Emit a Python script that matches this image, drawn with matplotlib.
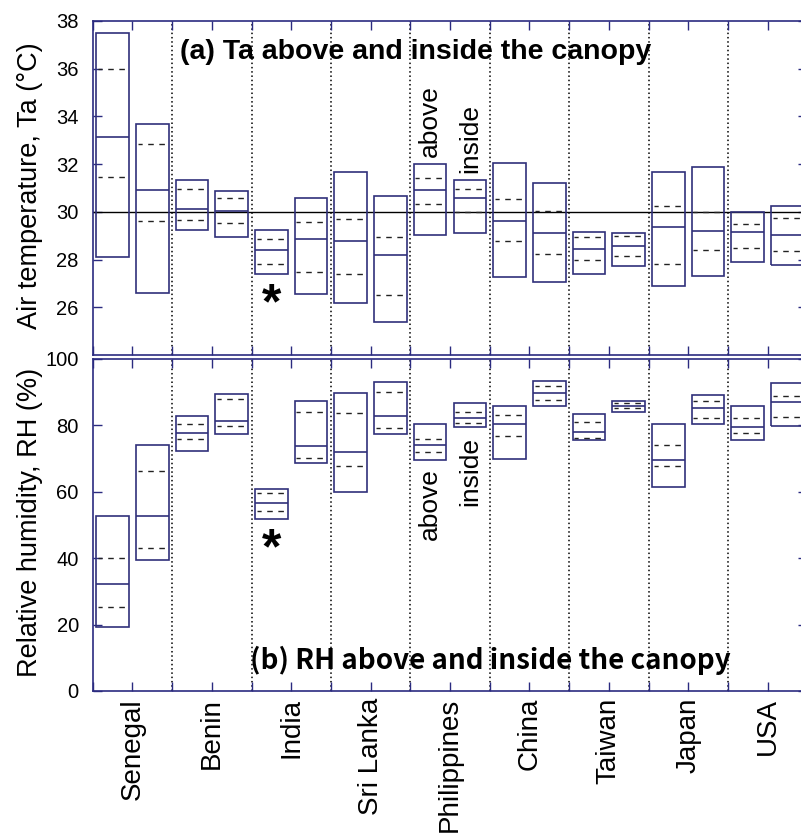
"""
Ta и RH над пологом и внутри полога по странам (минимум/максимум, среднее, пунктир).
"""

import numpy as np
import matplotlib
matplotlib.use('Agg')
import matplotlib.pyplot as plt

plt.rcParams['font.family'] = ['Liberation Sans', 'DejaVu Sans']

COUNTRIES = ['Senegal', 'Benin', 'India', 'Sri Lanka', 'Philippines',
             'China', 'Taiwan', 'Japan', 'USA']

# Температура воздуха, °C — над пологом
ta_above_max = [37.5, 31.33, 29.24, 31.68, 32.0, 32.04, 29.16, 31.65, 30.0]
ta_above_min = [28.09, 29.22, 27.41, 26.16, 29.05, 27.27, 27.4, 26.88, 27.89]
ta_above_mean = [33.15, 30.13, 28.42, 28.77, 30.9, 29.61, 28.45, 29.37, 29.14]
ta_above_hi = [36.0, 30.97, 28.85, 29.72, 31.4, 30.55, 28.93, 30.25, 29.5]
ta_above_lo = [31.46, 29.65, 27.83, 27.41, 30.35, 28.78, 27.97, 27.83, 28.49]

# Температура воздуха, °C — внутри полога
ta_inside_max = [33.67, 30.88, 30.56, 30.67, 31.34, 31.2, 29.13, 31.9, 30.25]
ta_inside_min = [26.58, 28.93, 26.55, 25.38, 29.1, 27.04, 27.72, 27.33, 27.76]
ta_inside_mean = [30.9, 30.04, 28.85, 28.18, 30.56, 29.13, 28.57, 29.18, 29.05]
ta_inside_hi = [32.83, 30.57, 29.58, 28.95, 30.97, 30.04, 28.97, 30.0, 29.73]
ta_inside_lo = [29.61, 29.54, 27.48, 26.5, 30.0, 28.22, 28.17, 28.39, 28.35]

# Относительная влажность, % — над пологом
rh_above_max = [52.6, 82.8, 60.9, 89.7, 80.5, 85.7, 83.4, 80.3, 85.7]
rh_above_min = [19.3, 72.2, 51.8, 59.9, 69.5, 69.8, 75.6, 61.3, 75.5]
rh_above_mean = [32.2, 77.6, 56.5, 72.1, 74.2, 80.5, 78.0, 69.5, 79.6]
rh_above_hi = [40.2, 80.5, 59.7, 83.6, 75.9, 83.1, 81.1, 74.1, 82.3]
rh_above_lo = [25.3, 75.8, 54.2, 67.9, 72.1, 76.8, 76.2, 67.8, 77.6]

# Относительная влажность, % — внутри полога
rh_inside_max = [74.1, 89.4, 87.4, 93.2, 86.6, 93.5, 87.5, 89.1, 92.9]
rh_inside_min = [39.4, 77.4, 68.7, 77.4, 79.5, 85.8, 84.0, 80.3, 79.8]
rh_inside_mean = [52.6, 81.4, 73.7, 82.8, 82.3, 89.7, 85.9, 85.2, 87.0]
rh_inside_hi = [66.4, 88.0, 83.9, 90.0, 84.0, 91.8, 86.7, 87.5, 88.9]
rh_inside_lo = [43.1, 79.9, 70.1, 79.2, 80.8, 87.8, 85.2, 82.3, 82.6]

BOX_COLOR = '#30307a'
SPINE_COLOR = '#2b2b80'
BOX_W = 0.82
N = len(COUNTRIES)
X_ABOVE = np.arange(N) * 2 + 0.5
X_INSIDE = np.arange(N) * 2 + 1.5


def draw_boxes(ax, xs, vmax, vmin, vmean, vhi, vlo):
    """Прямоугольник min..max, сплошная линия — среднее, пунктир — hi/lo."""
    vmax = np.asarray(vmax, dtype=float)
    vmin = np.asarray(vmin, dtype=float)
    ax.bar(xs, vmax - vmin, bottom=vmin, width=BOX_W, fill=False,
           edgecolor=BOX_COLOR, linewidth=1.2, zorder=3)
    ax.hlines(vmean, xs - BOX_W / 2, xs + BOX_W / 2, colors=BOX_COLOR,
              linewidth=1.2, zorder=3)
    for v in (vhi, vlo):
        ax.hlines(v, xs - BOX_W / 2 + 0.04, xs + BOX_W / 2 - 0.04, colors='#222222',
                  linewidth=1.0, linestyles=[(1, (4, 4))], zorder=3)


def setup_axis(ax, ylim, yticks):
    ax.set_xlim(0, 18)
    ax.set_ylim(*ylim)
    ax.set_yticks(yticks)
    ax.set_xticks(np.arange(1, 18, 2))
    ax.set_xticks(np.arange(0, 19, 2), minor=True)
    ax.tick_params(which='both', direction='in', length=6.5, width=1,
                   color=SPINE_COLOR, top=True, right=True)
    ax.tick_params(axis='y', labelsize=14.5, pad=10)
    for s in ax.spines.values():
        s.set_color(SPINE_COLOR)
        s.set_linewidth(1.2)
    for xs in range(2, 18, 2):
        ax.axvline(xs, color='black', lw=1.1, ls=(0, (1, 1.8)), zorder=1)


def main():
    fig = plt.figure(figsize=(8.01, 8.36), dpi=100)
    W, H = 801.0, 836.0
    left, right = 92.7, 807.3
    ax1 = fig.add_axes([left / W, 1 - 355 / H, (right - left) / W, 334 / H])
    ax2 = fig.add_axes([left / W, 1 - 691 / H, (right - left) / W, 332 / H])

    # (a) температура
    setup_axis(ax1, (24, 38), np.arange(26, 39, 2))
    ax1.tick_params(axis='x', labelbottom=False)
    ax1.axhline(30, color='black', lw=1, zorder=2)
    draw_boxes(ax1, X_ABOVE, ta_above_max, ta_above_min, ta_above_mean, ta_above_hi, ta_above_lo)
    draw_boxes(ax1, X_INSIDE, ta_inside_max, ta_inside_min, ta_inside_mean, ta_inside_hi, ta_inside_lo)
    ax1.text(0.122, 0.907, '(a) Ta above and inside the canopy', transform=ax1.transAxes,
             fontsize=20.5, fontweight='bold', ha='left', va='center')
    ip = COUNTRIES.index('Philippines')
    ax1.annotate('above', xy=(X_ABOVE[ip], ta_above_max[ip]), xytext=(0, 5),
                 textcoords='offset points', rotation=90, fontsize=19, ha='center', va='bottom')
    ax1.annotate('inside', xy=(X_INSIDE[ip], ta_inside_max[ip]), xytext=(0, 5),
                 textcoords='offset points', rotation=90, fontsize=19, ha='center', va='bottom')
    ii = COUNTRIES.index('India')
    ax1.annotate('*', xy=(X_ABOVE[ii], ta_above_min[ii]), xytext=(0, -6),
                 textcoords='offset points', fontsize=36, fontweight='bold',
                 ha='center', va='top')

    # (b) влажность
    setup_axis(ax2, (0, 100), np.arange(0, 101, 20))
    ax2.set_xticklabels(COUNTRIES, rotation=90, fontsize=20)
    ax2.tick_params(axis='x', pad=5)
    draw_boxes(ax2, X_ABOVE, rh_above_max, rh_above_min, rh_above_mean, rh_above_hi, rh_above_lo)
    draw_boxes(ax2, X_INSIDE, rh_inside_max, rh_inside_min, rh_inside_mean, rh_inside_hi, rh_inside_lo)
    ax2.text(0.220, 0.093, '(b) RH above and inside the canopy', transform=ax2.transAxes,
             fontsize=20, fontweight='bold', ha='left', va='center',
             family=['Noto Sans CJK JP', 'DejaVu Sans'])
    ax2.annotate('above', xy=(X_ABOVE[ip], rh_above_min[ip]), xytext=(0, -6),
                 textcoords='offset points', rotation=90, fontsize=19, ha='center', va='top')
    ax2.annotate('inside', xy=(X_INSIDE[ip], rh_inside_min[ip]), xytext=(0, -7),
                 textcoords='offset points', rotation=90, fontsize=19, ha='center', va='top')
    ax2.annotate('*', xy=(X_ABOVE[ii], rh_above_min[ii]), xytext=(0, -6),
                 textcoords='offset points', fontsize=36, fontweight='bold',
                 ha='center', va='top')

    fig.text(30 / W, 1 - 186 / H, 'Air temperature, Ta (°C)', rotation=90,
             fontsize=19.5, ha='center', va='center')
    fig.text(30 / W, 1 - 522 / H, 'Relative humidity, RH (%)', rotation=90,
             fontsize=19.5, ha='center', va='center')

    fig.savefig('out.png', dpi=100)
    plt.close(fig)


if __name__ == '__main__':
    main()
